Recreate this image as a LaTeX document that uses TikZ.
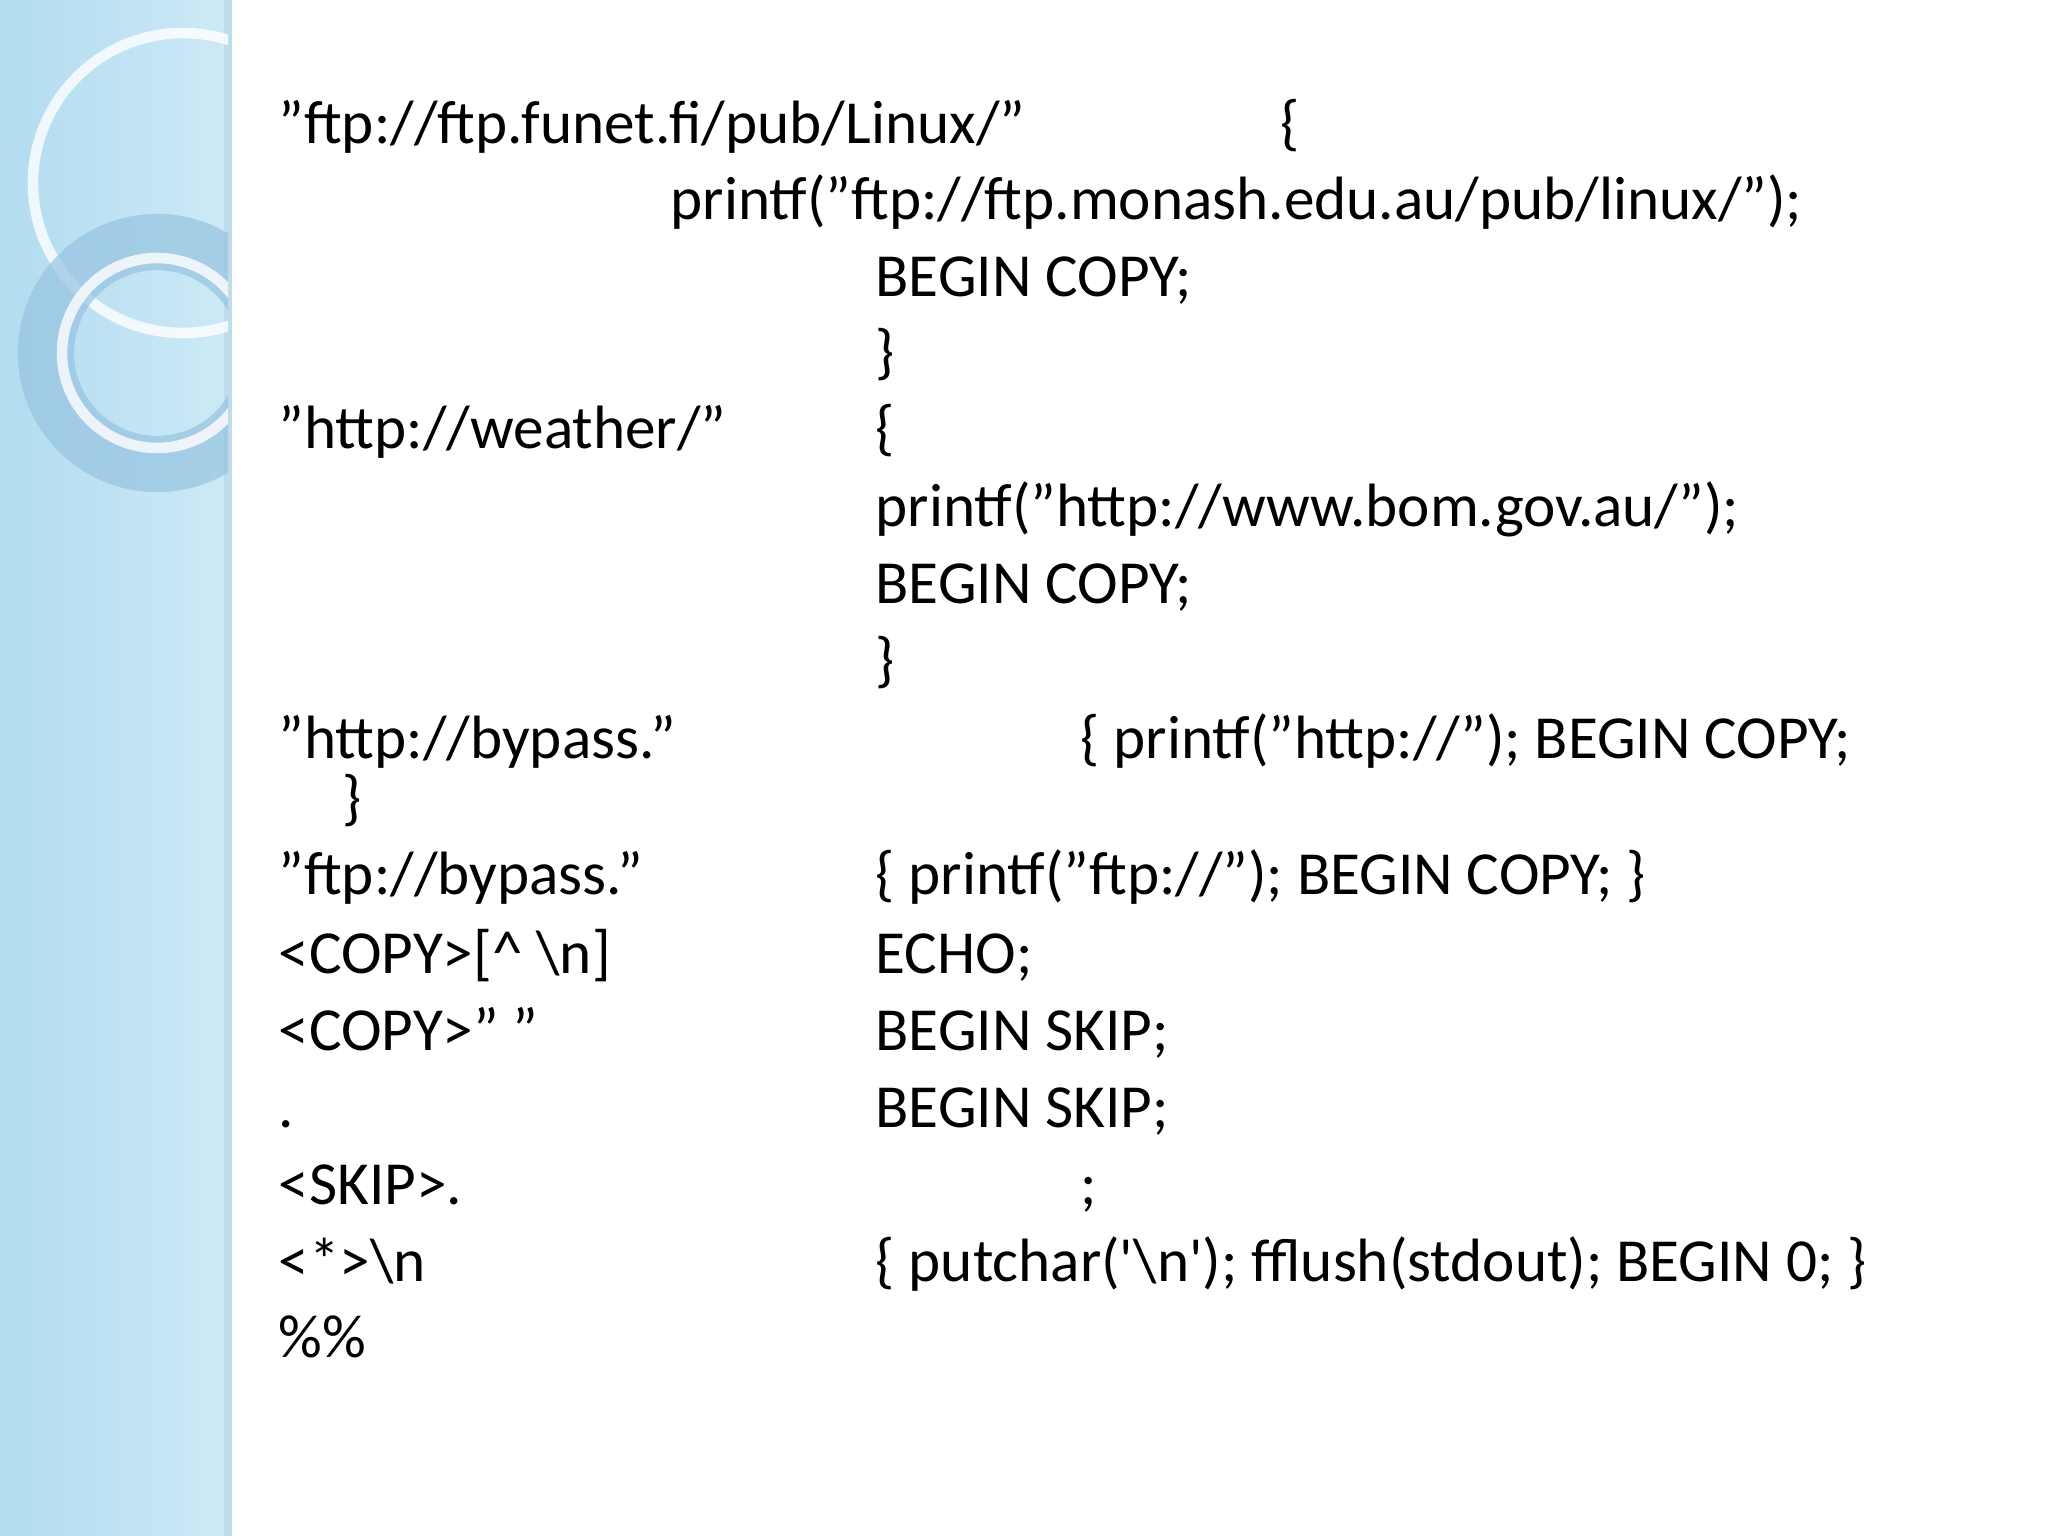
\documentclass[tikz,border=0pt]{standalone}
\usepackage{fontspec}
\setmainfont{Carlito}
\definecolor{sbA}{RGB}{178,220,240}
\definecolor{sbB}{RGB}{205,233,246}
\definecolor{sbEdge}{RGB}{190,220,235}
\definecolor{ringC}{RGB}{150,195,225}
\begin{document}
\begin{tikzpicture}[x=0.01cm,y=-0.01cm,
  txt/.style={anchor=base west,inner sep=0pt,font=\fontsize{17.4pt}{20pt}\selectfont}]
\useasboundingbox (0,0) rectangle (2048,1536);
\fill[white] (0,0) rectangle (2048,1536);
\shade[left color=sbA,right color=sbB] (0,0) rectangle (228,1536);
\draw[sbEdge,line width=2] (228,0) -- (228,1536);
\begin{scope}
\clip (0,0) rectangle (228,1536);
\draw[white,line width=3,opacity=0.8] (183,183) circle (150);
\draw[ringC,line width=16,opacity=0.7] (157,353) circle (111);
\draw[white,line width=3,opacity=0.8] (157,353) circle (95);
\end{scope}
\node[txt] (l1a) at (278,143.7) {"ftp://ftp.funet.fi/pub/Linux/"};
\node[txt] (l1b) at (1280,143.7) {\{};
\node[txt] (l2) at (670,219.4) {printf("ftp://ftp.monash.edu.au/pub/linux/");};
\node[txt] (l3) at (875,296.5) {BEGIN COPY;};
\node[txt] (l4) at (875,372.2) {\}};
\node[txt] (l5a) at (278,448) {"http://weather/"};
\node[txt] (l5b) at (875,448) {\{};
\node[txt] (l6) at (875,526.3) {printf("http://www.bom.gov.au/");};
\node[txt] (l7) at (875,603.4) {BEGIN COPY;};
\node[txt] (l8) at (875,680.4) {\}};
\node[txt] (l9a) at (278,758.8) {"http://bypass."};
\node[txt] (l9b) at (1080,758.8) {\{ printf("http://"); BEGIN COPY;};
\node[txt] (l10) at (342,818.9) {\}};
\node[txt] (l11a) at (278,894.6) {"ftp://bypass."};
\node[txt] (l11b) at (875,894.6) {\{ printf("ftp://"); BEGIN COPY; \}};
\node[txt] (l12a) at (278,973) {<COPY>[\textasciicircum{} \textbackslash n]};
\node[txt] (l12b) at (875,973) {ECHO;};
\node[txt] (l13a) at (278,1050) {<COPY>" "};
\node[txt] (l13b) at (875,1050) {BEGIN SKIP;};
\node[txt] (l14a) at (278,1127) {.};
\node[txt] (l14b) at (875,1127) {BEGIN SKIP;};
\node[txt] (l15a) at (278,1204) {<SKIP>.};
\node[txt] (l15b) at (1080,1204) {;};
\node[txt] (l16a) at (278,1281) {<*>\textbackslash n};
\node[txt] (l16b) at (875,1281) {\{ putchar(\textquotesingle\textbackslash n\textquotesingle); fflush(stdout); BEGIN 0; \}};
\node[txt] (l17) at (278,1357) {\%\%};
\end{tikzpicture}
\end{document}
